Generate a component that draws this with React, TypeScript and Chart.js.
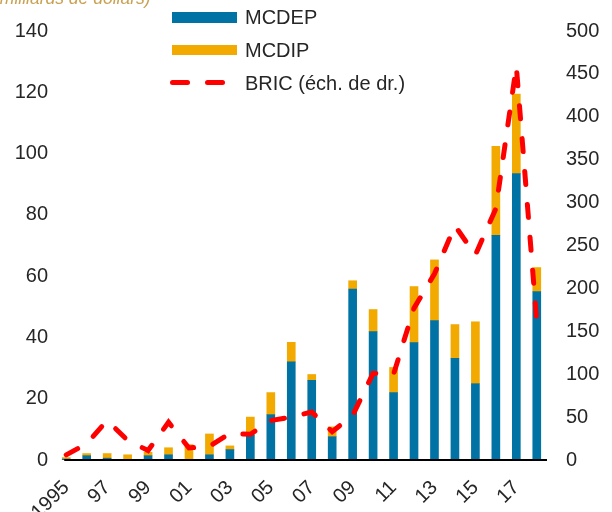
import React, { useEffect, useRef } from 'react';
import { Chart, registerables } from 'chart.js';
Chart.register(...registerables);

const categories = ['1995','1996','1997','1998','1999','2000','2001','2002','2003','2004','2005','2006','2007','2008','2009','2010','2011','2012','2013','2014','2015','2016','2017','2018'];
const tickLabels = ['1995','97','99','01','03','05','07','09','11','13','15','17'];
const mcdep = [0.3, 1.4, 0.6, 0, 1.4, 1.7, 0, 1.7, 3.4, 8.1, 14.8, 32.0, 26.0, 7.6, 55.8, 41.9, 22.0, 38.3, 45.5, 33.2, 24.9, 73.3, 93.5, 55.0];
const mcdip = [0.5, 0.7, 1.5, 1.7, 1.1, 2.3, 5.0, 6.8, 1.2, 5.9, 7.2, 6.4, 1.9, 3.2, 2.7, 7.2, 8.2, 18.3, 19.8, 11.0, 20.2, 29.1, 25.9, 7.8];
const bric = [6, 19, 46, 23, 11, 44, 14, 16, 31, 30, 46, 50, 56, 33, 52, 101, 100, 177, 217, 273, 239, 293, 459, 161];

const BLUE = '#0072A3';
const ORANGE = '#F2A900';
const RED = '#FF0000';
const FONT = "'Liberation Sans', Arial, sans-serif";

export default function App() {
  const ref = useRef<HTMLCanvasElement>(null);
  useEffect(() => {
    if (!ref.current) return;
    const axisLine = {
      id: 'axisLine',
      afterDatasetsDraw(chart: any) {
        const { ctx, chartArea, scales } = chart;
        const x0 = scales.x.getPixelForValue(0) - 2;
        const y = scales.y.getPixelForValue(0);
        ctx.save();
        ctx.strokeStyle = '#000';
        ctx.lineWidth = 2;
        ctx.beginPath();
        ctx.moveTo(x0, y);
        ctx.lineTo(chartArea.right, y);
        ctx.stroke();
        ctx.restore();
      },
    };
    const chart = new Chart(ref.current, {
      type: 'bar',
      data: {
        labels: categories,
        datasets: [
          { type: 'line', label: 'BRIC (éch. de dr.)', data: bric, yAxisID: 'y1', borderColor: RED, backgroundColor: RED, borderWidth: 5, borderDash: [13, 20], borderCapStyle: 'round', pointRadius: 0, tension: 0, order: 0 } as any,
          { label: 'MCDEP', data: mcdep, backgroundColor: BLUE, yAxisID: 'y', barThickness: 8, order: 1, stack: 's' },
          { label: 'MCDIP', data: mcdip, backgroundColor: ORANGE, yAxisID: 'y', barThickness: 8, order: 1, stack: 's' },
        ],
      },
      options: {
        responsive: false,
        animation: false,
        devicePixelRatio: 1,
        layout: { padding: { top: 24, left: 0, right: 0, bottom: 0 } },
        plugins: { legend: { display: false }, tooltip: { enabled: false } },
        scales: {
          x: {
            stacked: true,
            offset: true,
            grid: { display: false, drawTicks: false },
            border: { display: false },
            ticks: {
              autoSkip: false,
              maxRotation: 45,
              minRotation: 45,
              padding: 16,
              color: '#262626',
              font: { family: FONT, size: 20 },
              callback: (_v: any, i: number) => (i % 2 === 0 ? tickLabels[i / 2] : ''),
            },
            afterFit: (s: any) => { s.height = 52; },
          },
          y: {
            stacked: true,
            position: 'left',
            min: 0,
            max: 140,
            grid: { display: false, drawTicks: false },
            border: { display: false },
            ticks: { stepSize: 20, padding: 8, color: '#262626', font: { family: FONT, size: 20 } },
            afterFit: (s: any) => { s.width = 56; },
          },
          y1: {
            position: 'right',
            min: 0,
            max: 500,
            grid: { display: false, drawTicks: false },
            border: { display: false },
            ticks: { stepSize: 50, padding: 19, color: '#262626', font: { family: FONT, size: 20 } },
            afterFit: (s: any) => { s.width = 65; },
          },
        },
      },
      plugins: [axisLine],
    } as any);
    return () => chart.destroy();
  }, []);

  const legendText: React.CSSProperties = { position: 'absolute', left: 245, fontFamily: FONT, fontSize: 20, color: '#262626', lineHeight: '20px', whiteSpace: 'nowrap' };
  return (
    <div style={{ position: 'absolute', left: 0, top: 0, width: 612, height: 512, overflow: 'hidden', background: '#fff' }}>
      <canvas ref={ref} width={612} height={512} style={{ position: 'absolute', left: 0, top: 0 }} />
      <div style={{ position: 'absolute', left: -6, top: -10, fontFamily: FONT, fontStyle: 'italic', fontSize: 17.5, lineHeight: '17px', color: '#C9A152', whiteSpace: 'nowrap' }}>(milliards de dollars)</div>
      <div style={{ position: 'absolute', left: 172, top: 12, width: 65, height: 11, background: BLUE }} />
      <div style={{ ...legendText, top: 7 }}>MCDEP</div>
      <div style={{ position: 'absolute', left: 172, top: 45, width: 65, height: 10, background: ORANGE }} />
      <div style={{ ...legendText, top: 40 }}>MCDIP</div>
      <div style={{ position: 'absolute', left: 170, top: 80, width: 20, height: 5, borderRadius: 2.5, background: RED }} />
      <div style={{ position: 'absolute', left: 205, top: 80, width: 20, height: 5, borderRadius: 2.5, background: RED }} />
      <div style={{ ...legendText, top: 73 }}>BRIC (éch. de dr.)</div>
    </div>
  );
}
